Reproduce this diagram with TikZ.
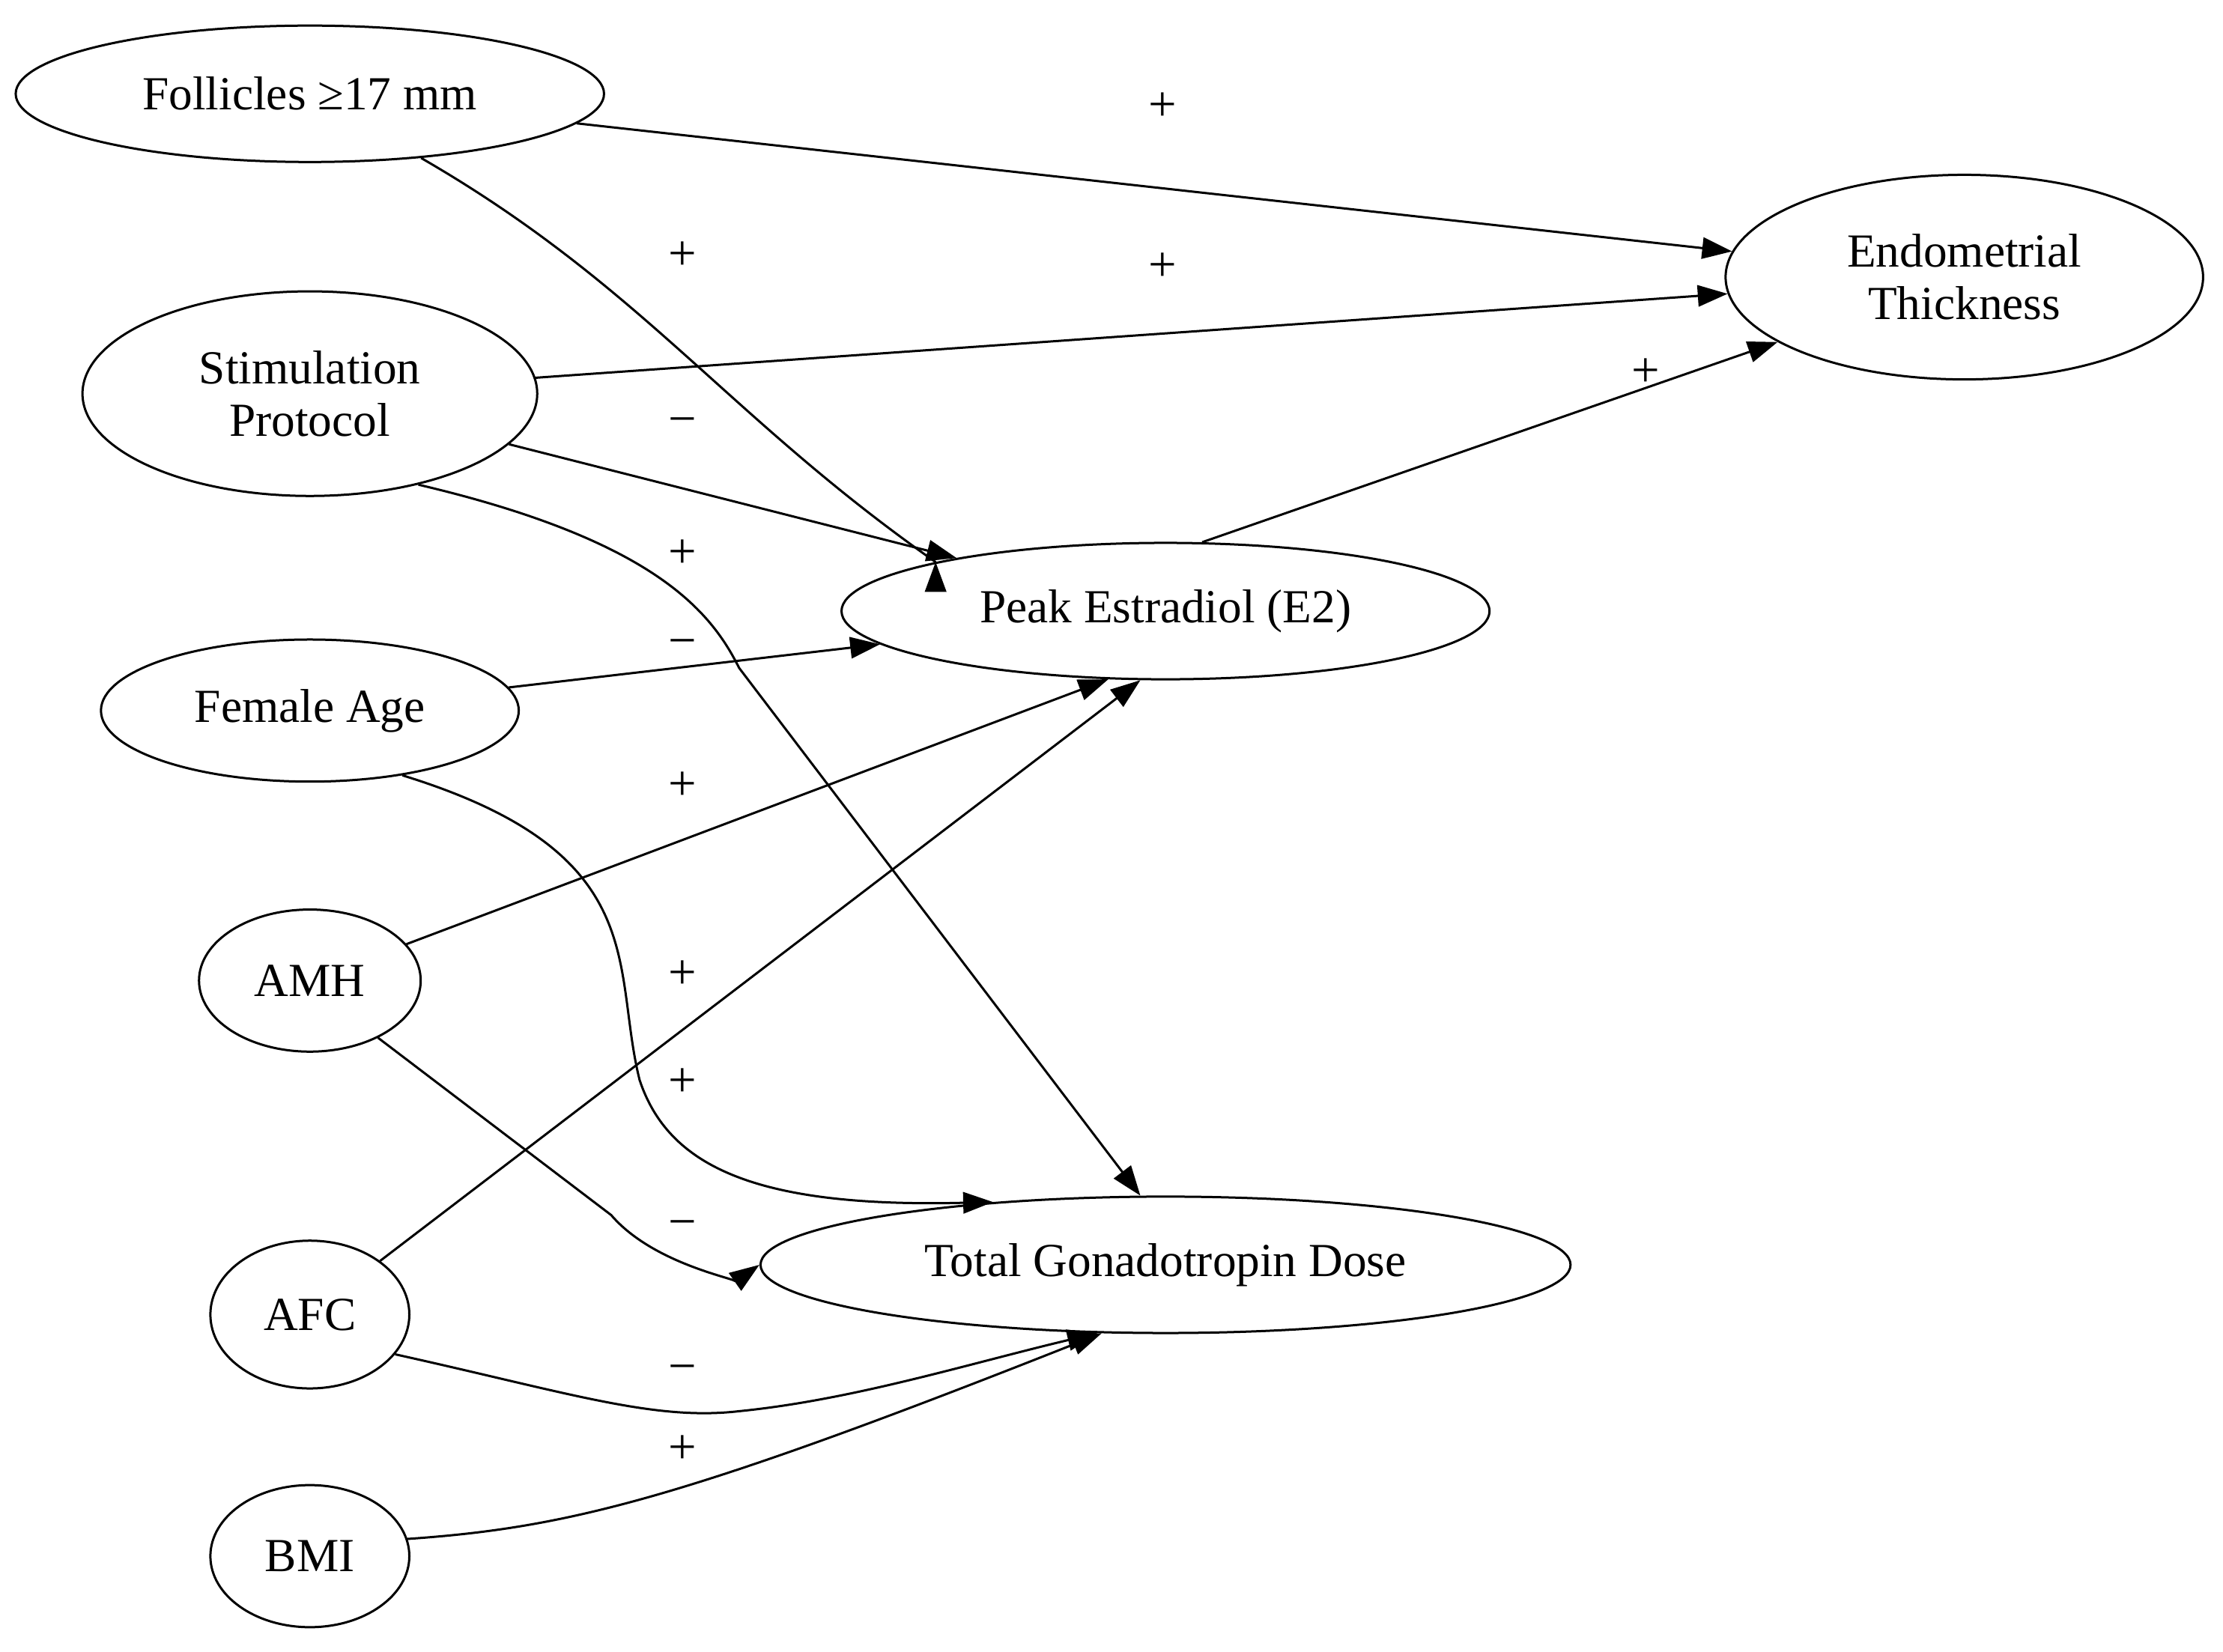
\documentclass[tikz,border=0pt]{standalone}
\usepackage{fontspec}
\setmainfont{Liberation Serif}
\usetikzlibrary{arrows.meta,shapes.geometric}
\begin{document}
\begin{tikzpicture}[x=0.02cm,y=-0.02cm,
  nd/.style={ellipse,draw,line width=0.9pt,inner sep=0pt,align=center,font=\fontsize{19}{21}\selectfont},
  ed/.style={line width=0.9pt,-{Triangle[length=0.42cm,width=0.3cm]}},
  lb/.style={font=\fontsize{20}{22}\selectfont}]
\useasboundingbox (0,0) rectangle (1564,1162);
\node[nd,minimum width=8.28cm,minimum height=1.92cm] (fol) at (218,66) {Follicles ≥17 mm};
\node[nd,minimum width=6.4cm,minimum height=2.88cm] (stim) at (218,277) {Stimulation\\Protocol};
\node[nd,minimum width=5.88cm,minimum height=2cm] (age) at (218,500) {Female Age};
\node[nd,minimum width=3.12cm,minimum height=2cm] (amh) at (218,690) {AMH};
\node[nd,minimum width=2.8cm,minimum height=2.08cm] (afc) at (218,925) {AFC};
\node[nd,minimum width=2.8cm,minimum height=2cm] (bmi) at (218,1095) {BMI};
\node[nd,minimum width=9.12cm,minimum height=1.92cm] (e2) at (820,430) {Peak Estradiol (E2)};
\node[nd,minimum width=6.72cm,minimum height=2.88cm] (endo) at (1382,195) {Endometrial\\Thickness};
\node[nd,minimum width=11.4cm,minimum height=1.92cm] (tgd) at (820,890) {Total Gonadotropin Dose};

\draw[ed] (fol) -- (endo);
\node[lb] at (818,75) {+};
\draw[ed] (fol) to[out=-30,in=145] (e2.north west) ++(0,0);
\node[lb] at (480,180) {+};
\draw[ed] (stim) -- (endo);
\node[lb] at (818,188) {+};
\draw[ed] (stim) -- (e2);
\node[lb] at (480,300) {−};
\draw[ed] (stim.-40) .. controls (460,380) and (500,430) .. (520,470) -- (tgd.110);
\node[lb] at (480,390) {+};
\draw[ed] (e2.62) -- (endo);
\node[lb] at (1158,262) {+};
\draw[ed] (age) -- (e2);
\node[lb] at (480,456) {−};
\draw[ed] (age.-35) .. controls (460,600) and (430,680) .. (450,760) .. controls (470,820) and (530,850) .. (tgd.160);
\node[lb] at (480,762) {+};
\draw[ed] (amh) -- (e2.-130);
\node[lb] at (480,553) {+};
\draw[ed] (amh.-40) -- (430,855) .. controls (460,890) and (520,900) .. (tgd.west);
\node[lb] at (480,865) {−};
\draw[ed] (afc) -- (e2.-110);
\node[lb] at (480,686) {+};
\draw[ed] (afc.-25) .. controls (400,980) and (460,1000) .. (520,993) .. controls (600,985) and (680,960) .. (tgd.-135);
\node[lb] at (480,967) {−};
\draw[ed] (bmi.10) .. controls (400,1075) and (480,1055) .. (tgd.-133);
\node[lb] at (480,1020) {+};
\end{tikzpicture}
\end{document}
